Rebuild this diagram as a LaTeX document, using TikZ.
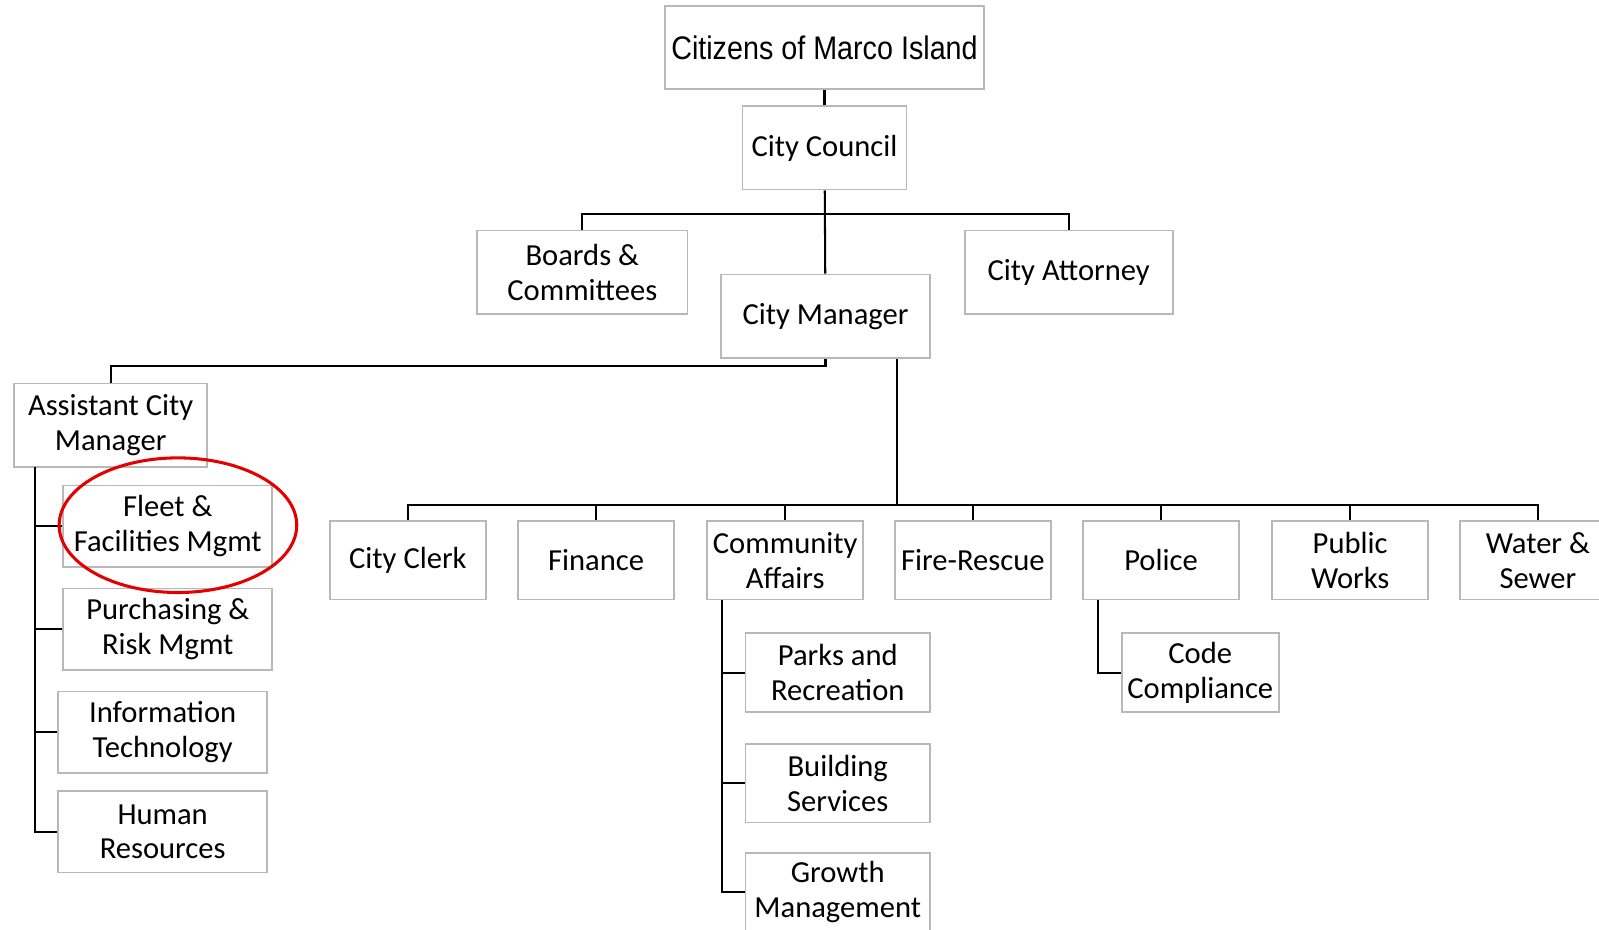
\documentclass[tikz,border=0pt]{standalone}
\usepackage{fontspec}
\setmainfont{Carlito}
\newfontfamily\citfont[FakeStretch=0.88]{Liberation Sans}
\usetikzlibrary{positioning}
\tikzset{orgbox/.style={draw=black!28, line width=0.8pt, fill=white,
align=center, inner sep=0pt, minimum height=39pt,
font=\fontsize{15}{17}\selectfont},
orgline/.style={line width=1pt, black}}

\begin{document}
\begin{tikzpicture}[x=0.5pt, y=-0.5pt]
	\clip (0,0) rectangle (1568,911);
	% top of the chart
	\node[orgbox, minimum width=156.5pt, minimum height=40.5pt, font=\citfont\fontsize{16}{18}\selectfont] (citizens) at (808.5,46.5) {Citizens of Marco Island};
	\node[orgbox, minimum width=80.5pt, minimum height=41pt] (council) at (808.5,145) {City Council};
	\node[orgbox, minimum width=103pt, minimum height=41pt] (boards) at (571,267) {Boards \&\\Committees};
	\node[orgbox, minimum width=102pt, minimum height=41pt] (attorney) at (1048,267) {City Attorney};
	\node[orgbox, minimum width=102.5pt, minimum height=41pt] (manager) at (809.5,310) {City Manager};
	% assistant city manager
	\node[orgbox, minimum width=94.5pt, minimum height=41pt] (acm) at (108.5,417) {Assistant City\\Manager};
	\node[orgbox, minimum width=102.5pt, minimum height=40pt] (fleet) at (164.5,516) {Fleet \&\\Facilities Mgmt};
	\node[orgbox, minimum width=102.5pt, minimum height=40pt] (purchasing) at (164.5,617) {Purchasing \&\\Risk Mgmt};
	\node[orgbox, minimum width=102.5pt, minimum height=40pt] (infotech) at (159.5,718) {Information\\Technology};
	\node[orgbox, minimum width=102.5pt, minimum height=40pt] (humanres) at (159.5,815.5) {Human\\Resources};
	% departments
	\node[orgbox, minimum width=76.5pt, minimum height=38.5pt] (clerk) at (400,549.5) {City Clerk};
	\node[orgbox, minimum width=76.5pt, minimum height=38.5pt] (finance) at (584.5,549.5) {Finance};
	\node[orgbox, minimum width=76.5pt, minimum height=38.5pt] (community) at (770,549.5) {Community\\Affairs};
	\node[orgbox, minimum width=76.5pt, minimum height=38.5pt] (fire) at (954,549.5) {Fire-Rescue};
	\node[orgbox, minimum width=76.5pt, minimum height=38.5pt] (police) at (1138.5,549.5) {Police};
	\node[orgbox, minimum width=76.5pt, minimum height=38.5pt] (works) at (1324,549.5) {Public\\Works};
	\node[orgbox, minimum width=76.5pt, minimum height=38.5pt] (water) at (1508,549.5) {Water \&\\Sewer};
	\node[orgbox, minimum width=90.5pt, minimum height=38.5pt] (parks) at (821.5,659.5) {Parks and\\Recreation};
	\node[orgbox, minimum width=90.5pt, minimum height=38.5pt] (building) at (821.5,768) {Building\\Services};
	\node[orgbox, minimum width=90.5pt, minimum height=38.5pt] (growth) at (821.5,875) {Growth\\Management};
	\node[orgbox, minimum width=77pt, minimum height=38.5pt] (code) at (1177,659.5) {Code\\Compliance};
	% bus points
	\coordinate (topbus) at (808.5,210);
	\coordinate (deptbus) at (880,495);
	\coordinate (acmspine) at (34,458);
	\coordinate (caspine) at (708,588);
	\coordinate (pospine) at (1077,588);
	% connectors
	\draw[orgline] (citizens) -- (council);
	\draw[orgline] (council) -- (manager);
	\draw[orgline] (boards.north) |- (topbus) -| (attorney.north);
	\draw[orgline] (manager.south) -- ++(0,7) -| (acm.north);
	\draw[orgline] (manager.south -| deptbus) -- (deptbus);
	\draw[orgline] (clerk.north) |- (deptbus) -| (water.north);
	\foreach \dept in {finance,community,fire,police,works}
		\draw[orgline] (\dept.north) -- (\dept.north |- deptbus);
	\draw[orgline] (acmspine) |- (humanres.west);
	\foreach \unit in {fleet,purchasing,infotech}
		\draw[orgline] (\unit.west) -- (\unit.west -| acmspine);
	\draw[orgline] (caspine) |- (growth.west);
	\foreach \unit in {parks,building}
		\draw[orgline] (\unit.west) -- (\unit.west -| caspine);
	\draw[orgline] (pospine) |- (code.west);
	% highlight
	\draw[red!90!black, line width=1.5pt] (174.5,515) ellipse [x radius=58.25pt, y radius=33pt];
\end{tikzpicture}
\end{document}
